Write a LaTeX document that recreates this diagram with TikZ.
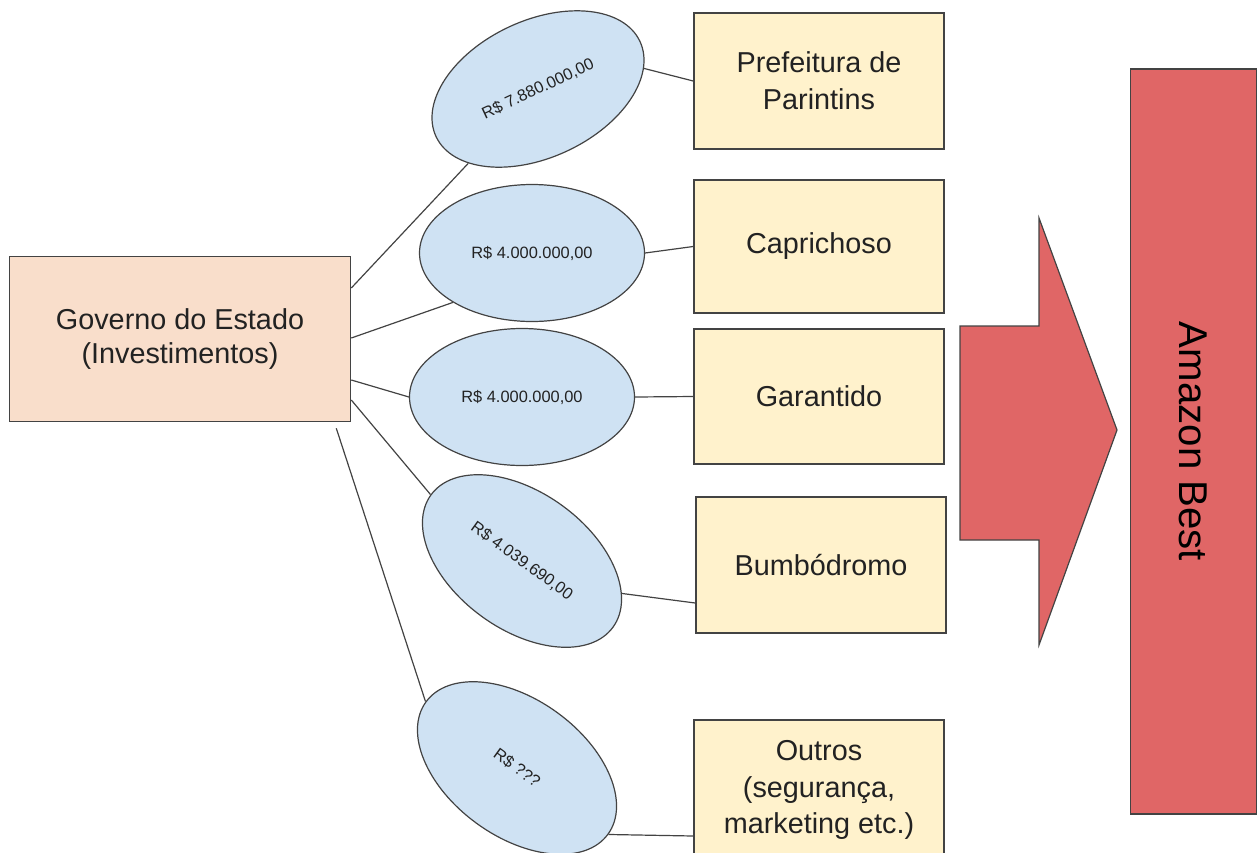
\documentclass[tikz,border=0pt]{standalone}
\usepackage{fontspec}
\setmainfont{Liberation Sans}
\usetikzlibrary{shapes.geometric,calc}
\definecolor{govfill}{HTML}{F9DECB}
\definecolor{boxfill}{HTML}{FFF2CC}
\definecolor{ellfill}{HTML}{CFE2F3}
\definecolor{redfill}{HTML}{E06666}
\definecolor{edge}{HTML}{434343}
\definecolor{txt}{HTML}{222222}
\tikzset{
  bigtext/.style={font=\fontsize{14.4}{18.3}\selectfont, text=txt},
  govbox/.style={rectangle, draw=edge, line width=0.8pt, fill=govfill, inner sep=0pt,
    minimum width=170.5pt, minimum height=82.5pt, align=center, bigtext,
    font=\fontsize{14.4}{17}\selectfont},
  ybox/.style={rectangle, draw=edge, line width=0.8pt, fill=boxfill, inner sep=0pt,
    minimum width=125pt, minimum height=68pt, align=center, bigtext},
  money/.style={ellipse, draw=edge, line width=0.6pt, fill=ellfill, inner sep=0pt,
    minimum width=112.5pt, minimum height=68.5pt, text=txt,
    font=\fontsize{8.2}{10}\selectfont},
  link/.style={draw=edge, line width=0.6pt},
  bar/.style={rectangle, draw=edge, line width=0.8pt, fill=redfill, inner sep=0pt,
    minimum width=372.5pt, minimum height=63pt, text=black,
    font=\fontsize{20.1}{24}\selectfont},
  bigarrow/.style={draw=edge, line width=0.6pt, fill=redfill, line join=miter}
}
\begin{document}
\begin{tikzpicture}[x=0.5pt,y=-0.5pt]
\useasboundingbox (0,0) rectangle (1258,852);
\clip (0,0) rectangle (1258,852);

% main box
\node[govbox] (gov) at (180,339) {Governo do Estado\\(Investimentos)};

% target boxes
\node[ybox] (pref) at (819,81) {Prefeitura de\\Parintins};
\node[ybox, minimum height=66.5pt] (cap) at (819,246.5) {Caprichoso};
\node[ybox, minimum height=67.5pt] (gar) at (819,396.5) {Garantido};
\node[ybox] (bum) at (821,565) {Bumbódromo};
\node[ybox, minimum height=70pt] (out) at (819,790) {Outros\\(segurança,\\marketing etc.)};

% money ellipses
\node[money, rotate=25] (e1) at (538,89) {R\$ 7.880.000,00};
\node[money] (e2) at (532,253) {R\$ 4.000.000,00};
\node[money] (e3) at (522,397) {R\$ 4.000.000,00};
\node[money, rotate=-36] (e4) at (522,561) {R\$ 4.039.690,00};
\node[money, rotate=-36] (e5) at (517,768) {R\$ ???};

% connectors from government
\draw[link] ($(gov.east)+(0,-51)$) -- (e1);
\draw[link] ($(gov.east)+(0,-1)$) -- (e2.212);
\draw[link] ($(gov.east)+(0,41)$) -- (e3.west);
\draw[link] ($(gov.east)+(0,61)$) -- (e4.west);
\draw[link] ($(gov.south east)+(-15,6)$) -- (e5.west);

% connectors to targets
\draw[link] (e1.-14) -- (pref.west);
\draw[link] (e2.east) -- (cap.west);
\draw[link] (e3.east) -- (gar.west);
\draw[link] (e4.18) -- ($(bum.west)+(0,38)$);
\draw[link] (e5.east) -- ($(out.west)+(0,46)$);

% big arrow
\draw[bigarrow] (960,326) -- (1039,326) -- (1039,218) -- (1117,430)
  -- (1039,645) -- (1039,540) -- (960,540) -- cycle;

% Amazon Best bar
\node[bar, rotate=-90] (amz) at (1193.5,441.5) {Amazon Best};
\end{tikzpicture}
\end{document}
